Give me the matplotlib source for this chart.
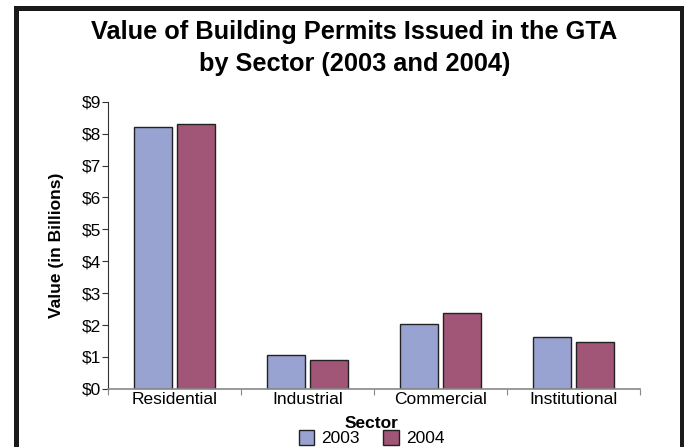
import numpy as np
import matplotlib
matplotlib.use('Agg')
import matplotlib.pyplot as plt
from matplotlib.patches import Rectangle

plt.rcParams['font.family'] = ['Liberation Sans', 'DejaVu Sans']

sectors = ['Residential', 'Industrial', 'Commercial', 'Institutional']
years = ['2003', '2004']
values_2003 = [8.21, 1.07, 2.04, 1.63]
values_2004 = [8.31, 0.92, 2.38, 1.47]
ytick_vals = list(range(0, 10))
ytick_labels = ['$' + str(v) for v in ytick_vals]

C2003 = '#99a3d2'
C2004 = '#a15577'
EDGE = '#222222'

fig = plt.figure(figsize=(6.84, 4.47), dpi=100)
ax = fig.add_axes([0.158, 0.130, 0.778, 0.6425])

x = np.arange(len(sectors))
w = 0.285
ax.bar(x - 0.16, values_2003, w, color=C2003, edgecolor=EDGE, linewidth=1.0, label=years[0])
ax.bar(x + 0.16, values_2004, w, color=C2004, edgecolor=EDGE, linewidth=1.0, label=years[1])

ax.set_xlim(-0.5, 3.5)
ax.set_ylim(0, 9)
ax.set_yticks(ytick_vals)
ax.set_yticklabels(ytick_labels, fontsize=12.5)
ax.set_xticks(x)
ax.set_xticklabels(sectors, fontsize=12.5)
ax.tick_params(axis='x', length=0, pad=2)
ax.tick_params(axis='y', length=4, width=0.8, color='#333333', pad=1)
# category separators on the x axis
ax.set_xticks(np.arange(-0.5, 4.0, 1.0), minor=True)
ax.tick_params(axis='x', which='minor', length=4, width=0.8, color='#888888', direction='out')

for s in ['top', 'right']:
    ax.spines[s].set_visible(False)
ax.spines['left'].set_color('#333333')
ax.spines['bottom'].set_color('#888888')
ax.spines['bottom'].set_linewidth(1.2)

ax.set_ylabel('Value (in Billions)', fontsize=12.5, fontweight='bold', labelpad=13)
fig.text(0.543, 0.053, 'Sector', fontsize=12.5, fontweight='bold', ha='center', va='center')

fig.suptitle('Value of Building Permits Issued in the GTA\nby Sector (2003 and 2004)',
             fontsize=18.3, fontweight='bold', y=0.955, x=0.518, linespacing=1.43)

fig.legend(*ax.get_legend_handles_labels(), loc='center', bbox_to_anchor=(0.543, 0.02),
           ncol=2, frameon=False, fontsize=12.5, handlelength=0.9, handleheight=1.0,
           handletextpad=0.4, columnspacing=1.35, borderaxespad=0, borderpad=0)

# outer frame (bottom edge falls outside the image)
fig.patches.append(Rectangle((0.0234, -0.05), 0.973, 1.033, transform=fig.transFigure,
                             fill=False, edgecolor='#1a1a1a', linewidth=3.6, zorder=10))

fig.savefig('out.png', dpi=100)
